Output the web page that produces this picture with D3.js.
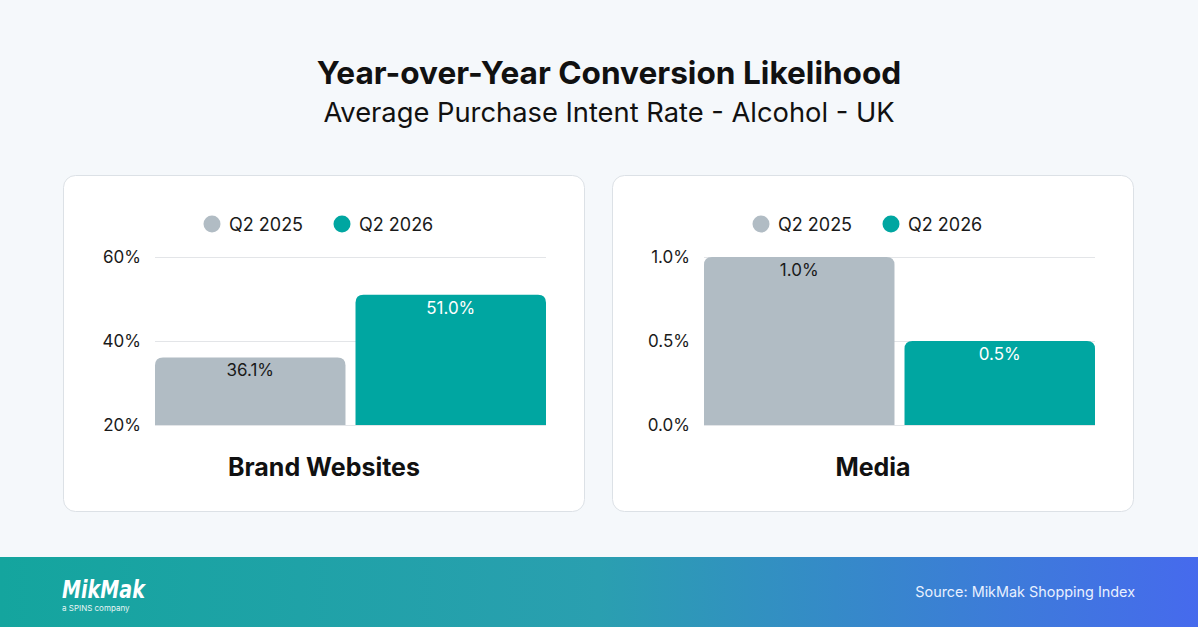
<!DOCTYPE html>
<html><head><meta charset="utf-8">
<script src="https://cdn.jsdelivr.net/npm/d3@7"></script>
<style>
html,body{margin:0;padding:0;background:#f5f8fb;}
svg{display:block;font-family:Inter,"Noto Sans",sans-serif;}
</style></head>
<body><svg id="c" width="1198" height="627"></svg>
<script>
const title = "Year-over-Year Conversion Likelihood";
const subtitle = "Average Purchase Intent Rate - Alcohol - UK";
const seriesNames = ["Q2 2025", "Q2 2026"];
const seriesColors = ["#b1bcc4", "#00a6a1"];
const panels = ["Brand Websites", "Media"];
const brandValues = [36.1, 51.0];
const mediaValues = [1.0, 0.5];
const brandTicks = [20, 40, 60];
const mediaTicks = [0.0, 0.5, 1.0];
const source = "Source: MikMak Shopping Index";

const svg = d3.select("#c");
const W = 1198, H = 627;
svg.append("rect").attr("width", W).attr("height", H).attr("fill", "#f5f8fb");

svg.append("text").attr("x", 609).attr("y", 84).attr("text-anchor", "middle")
  .attr("font-size", 31.6).attr("font-weight", 700).attr("fill", "#111").text(title);
svg.append("text").attr("x", 609).attr("y", 122).attr("text-anchor", "middle")
  .attr("font-size", 27.3).attr("font-weight", 400).attr("fill", "#111").text(subtitle);

const defs = svg.append("defs");
const grad = defs.append("linearGradient").attr("id", "fg").attr("x1", "0").attr("x2", "1").attr("y1", "0").attr("y2", "0");
grad.append("stop").attr("offset", "0").attr("stop-color", "#14a59e");
grad.append("stop").attr("offset", "0.5").attr("stop-color", "#2a9fb0");
grad.append("stop").attr("offset", "1").attr("stop-color", "#466aed");
svg.append("rect").attr("x", 0).attr("y", 557).attr("width", W).attr("height", 70).attr("fill", "url(#fg)");
svg.append("text").attr("x", 1135).attr("y", 597).attr("text-anchor", "end")
  .attr("font-size", 14.4).attr("fill", "#e8f0ff").text(source);
svg.append("text").attr("x", 62).attr("y", 598).attr("font-size", 24).attr("font-weight", 700)
  .attr("font-style", "italic").attr("fill", "#fff").attr("textLength", 83).attr("lengthAdjust", "spacingAndGlyphs")
  .attr("font-family", "'DejaVu Sans', sans-serif").text("MikMak");
svg.append("text").attr("x", 62).attr("y", 611).attr("font-size", 8).attr("fill", "#e8f6f5").text("a SPINS company");

function roundTopPath(x, y, w, h, r) {
  r = Math.min(r, w / 2, h);
  return `M${x},${y + h}V${y + r}Q${x},${y} ${x + r},${y}H${x + w - r}Q${x + w},${y} ${x + w},${y + r}V${y + h}Z`;
}

function panel(ox, name, values, ticks, dom, fmt, labFmt) {
  const g = svg.append("g").attr("transform", `translate(${ox},0)`);
  g.append("rect").attr("x", 63.5).attr("y", 175.5).attr("width", 521).attr("height", 336)
    .attr("rx", 12).attr("fill", "#fff").attr("stroke", "#dce1e6");
  const lx = [212, 342];
  seriesNames.forEach((s, i) => {
    g.append("circle").attr("cx", lx[i]).attr("cy", 224).attr("r", 8.5).attr("fill", seriesColors[i]);
    g.append("text").attr("x", lx[i] + 17).attr("y", 230.5).attr("font-size", 18).attr("fill", "#1a1a1a").text(s);
  });
  const y = d3.scaleLinear().domain(dom).range([425, 257]);
  const x = d3.scaleBand().domain(seriesNames).range([155, 546]).paddingInner(0.05).paddingOuter(0);
  g.append("g").selectAll("line").data(ticks).join("line")
    .attr("x1", 155).attr("x2", 546).attr("y1", d => y(d) + 0.5).attr("y2", d => y(d) + 0.5)
    .attr("stroke", "#e3e5e8").attr("stroke-width", 1.2);
  const ax = g.append("g").attr("transform", "translate(155,0)")
    .call(d3.axisLeft(y).tickValues(ticks).tickFormat(fmt).tickSize(0).tickPadding(14));
  ax.select(".domain").remove();
  ax.selectAll("text").attr("font-size", 17).attr("fill", "#1a1a1a").attr("font-family", "Inter,'Noto Sans',sans-serif")
    .attr("dy", "0.35em");
  g.append("g").selectAll("path").data(values).join("path")
    .attr("d", (d, i) => roundTopPath(x(seriesNames[i]), y(d), x.bandwidth(), y(dom[0]) - y(d), 8))
    .attr("fill", (d, i) => seriesColors[i]);
  g.append("g").selectAll("text").data(values).join("text")
    .attr("x", (d, i) => x(seriesNames[i]) + x.bandwidth() / 2)
    .attr("y", d => y(d) + 19)
    .attr("text-anchor", "middle").attr("font-size", 17)
    .attr("fill", (d, i) => i === 0 ? "#1a1a1a" : "#ffffff")
    .text(labFmt);
  g.append("text").attr("x", 324).attr("y", 476).attr("text-anchor", "middle")
    .attr("font-size", 25).attr("font-weight", 700).attr("fill", "#111").text(name);
}

panel(0, panels[0], brandValues, brandTicks, [20, 60], d => d + "%", d => d.toFixed(1) + "%");
panel(549, panels[1], mediaValues, mediaTicks, [0, 1], d => d.toFixed(1) + "%", d => d.toFixed(1) + "%");
</script></body></html>
